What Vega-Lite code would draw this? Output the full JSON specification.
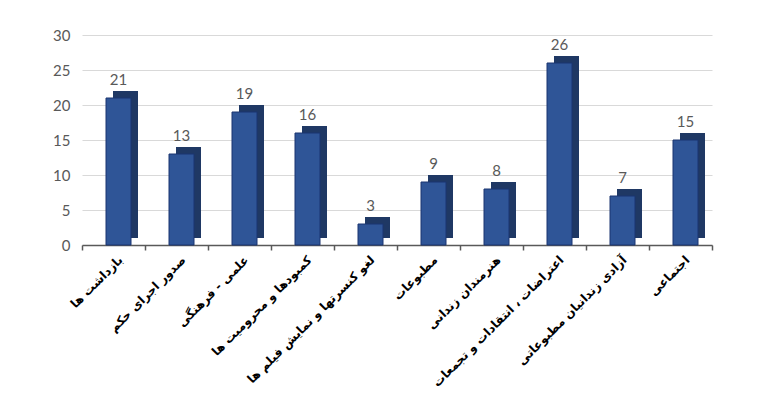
{
  "$schema": "https://vega.github.io/schema/vega-lite/v6.json",
  "width": 630,
  "height": 210,
  "autosize": "none",
  "padding": {"left": 82, "top": 35, "right": 56, "bottom": 151},
  "background": "white",
  "config": {"view": {"stroke": null}},
  "data": {
    "values": [
      {"category": "بازداشت ها", "value": 21},
      {"category": "صدور اجرای حکم", "value": 13},
      {"category": "علمی - فرهنگی", "value": 19},
      {"category": "کمبودها و محرومیت ها", "value": 16},
      {"category": "لغو کنسرتها و نمایش فیلم ها", "value": 3},
      {"category": "مطبوعات", "value": 9},
      {"category": "هنرمندان زندانی", "value": 8},
      {"category": "اعتراضات ، انتقادات و تجمعات", "value": 26},
      {"category": "آزادی زندانیان مطبوعاتی", "value": 7},
      {"category": "اجتماعی", "value": 15}
    ]
  },
  "encoding": {
    "x": {
      "field": "category",
      "type": "nominal",
      "sort": null,
      "scale": {"paddingInner": 0, "paddingOuter": 0},
      "axis": {
        "title": null,
        "labelAngle": -45,
        "labelAlign": "right",
        "labelBaseline": "top",
        "labelFont": "DejaVu Sans",
        "labelFontWeight": "bold",
        "labelFontSize": 12,
        "labelColor": "#000000",
        "labelLimit": 300,
        "labelPadding": 4,
        "labelOffset": 3,
        "domainColor": "#595959",
        "domainWidth": 1.5,
        "tickColor": "#595959",
        "tickWidth": 1.5,
        "tickBand": "extent",
        "tickSize": 5,
        "grid": false
      }
    },
    "y": {
      "field": "value",
      "type": "quantitative",
      "scale": {"domain": [0, 30]},
      "axis": {
        "title": null,
        "values": [0, 5, 10, 15, 20, 25, 30],
        "domain": false,
        "ticks": false,
        "grid": true,
        "gridColor": "#d9d9d9",
        "gridWidth": 1,
        "labelFont": "Lato",
        "labelFontSize": 15,
        "labelColor": "#595959",
        "labelPadding": 12
      }
    }
  },
  "layer": [
    {
      "mark": {"type": "bar", "color": "#1f3864", "width": 25, "xOffset": 12, "yOffset": -7}
    },
    {
      "mark": {"type": "bar", "color": "#2f5597", "stroke": "#1a3470", "strokeWidth": 1, "width": 25, "xOffset": 5}
    },
    {
      "mark": {"type": "text", "dy": -10, "xOffset": 5, "font": "Lato", "fontSize": 15, "color": "#595959", "baseline": "bottom"},
      "encoding": {"text": {"field": "value", "type": "quantitative"}}
    }
  ]
}
